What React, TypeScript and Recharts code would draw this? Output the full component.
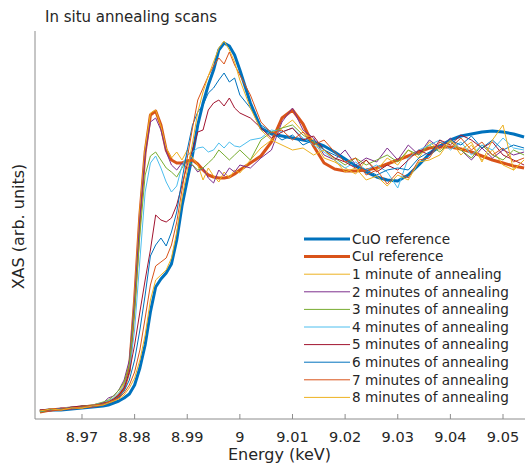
import React from "react";
import { LineChart, Line, XAxis, YAxis } from "recharts";

// Photon energy (keV)
const energy = [
  8.962, 8.964, 8.966, 8.968, 8.970, 8.972, 8.974, 8.975, 8.976, 8.977,
  8.978, 8.979, 8.980, 8.981, 8.982, 8.983, 8.984, 8.985, 8.986, 8.987,
  8.988, 8.989, 8.990, 8.991, 8.992, 8.993, 8.994, 8.995, 8.996, 8.997,
  8.998, 8.999, 9.000, 9.002, 9.004, 9.006, 9.008, 9.010, 9.012, 9.014,
  9.016, 9.018, 9.020, 9.022, 9.024, 9.026, 9.028, 9.030, 9.032, 9.034,
  9.036, 9.038, 9.040, 9.042, 9.044, 9.046, 9.048, 9.050, 9.052, 9.054,
];

const cuO = [
  -0.004, 0, 0, 0.004, 0.008, 0.012, 0.016, 0.02, 0.028, 0.036,
  0.048, 0.064, 0.1, 0.168, 0.26, 0.392, 0.492, 0.524, 0.548, 0.584,
  0.68, 0.816, 0.92, 1.02, 1.14, 1.228, 1.3, 1.36, 1.44, 1.468,
  1.456, 1.42, 1.36, 1.228, 1.128, 1.104, 1.096, 1.088, 1.08, 1.072,
  1.056, 1.032, 1.004, 0.976, 0.952, 0.932, 0.92, 0.916, 0.94, 0.98,
  1.024, 1.056, 1.08, 1.096, 1.104, 1.112, 1.116, 1.112, 1.104, 1.092,
];

const cuI = [
  -0.008, 0, 0.004, 0.008, 0.012, 0.016, 0.024, 0.032, 0.04, 0.056,
  0.088, 0.16, 0.44, 0.78, 1.032, 1.18, 1.196, 1.14, 1.04, 1.0,
  0.988, 0.988, 0.996, 1.0, 0.984, 0.96, 0.94, 0.932, 0.928, 0.928,
  0.932, 0.944, 0.96, 0.988, 1.016, 1.072, 1.168, 1.2, 1.144, 1.056,
  0.988, 0.964, 0.956, 0.956, 0.96, 0.968, 0.984, 1.0, 1.016, 1.032,
  1.048, 1.052, 1.052, 1.044, 1.032, 1.016, 1.0, 0.988, 0.976, 0.968,
];

const min1 = [
  -0.004, 0.004, 0, 0.012, 0.008, 0.02, 0.028, 0.036, 0.048, 0.068,
  0.108, 0.192, 0.46, 0.8, 1.048, 1.188, 1.2, 1.136, 1.048, 1.008,
  1.032, 1.0, 1.04, 1.008, 0.98, 0.92, 0.968, 0.936, 0.912, 0.952,
  0.928, 0.96, 0.948, 1.0, 1.048, 1.08, 1.128, 1.16, 1.112, 1.08,
  1.008, 0.992, 0.968, 0.944, 1.0, 0.96, 1.008, 0.98, 1.04, 1.008,
  1.072, 1.04, 1.08, 1.02, 1.06, 1.0, 1.04, 0.98, 0.96, 1.0,
];

const min2 = [
  0, -0.004, 0.008, 0.004, 0.016, 0.012, 0.028, 0.048, 0.056, 0.08,
  0.12, 0.2, 0.44, 0.768, 1.02, 1.152, 1.168, 1.12, 1.032, 0.98,
  0.96, 0.988, 0.968, 0.98, 0.952, 0.968, 0.928, 0.908, 0.96, 0.936,
  0.968, 0.952, 0.98, 0.968, 1.008, 1.04, 1.152, 1.208, 1.12, 1.088,
  1.02, 1.0, 1.04, 0.98, 1.008, 0.992, 1.048, 1.0, 1.06, 1.02,
  1.08, 1.048, 1.088, 1.04, 1.0, 1.048, 1.008, 1.04, 1.02, 1.032,
];

const min3 = [
  -0.008, 0, 0.004, 0.008, 0.016, 0.02, 0.032, 0.04, 0.056, 0.08,
  0.112, 0.18, 0.4, 0.7, 0.94, 1.016, 1.032, 1.0, 0.968, 0.952,
  0.932, 0.968, 1.0, 0.98, 0.96, 0.968, 0.988, 1.008, 1.04, 1.02,
  1.0, 1.02, 1.04, 1.0, 1.08, 1.112, 1.128, 1.14, 1.1, 1.072,
  1.04, 1.008, 0.98, 1.008, 0.98, 1.0, 1.02, 0.992, 1.04, 1.02,
  1.06, 1.032, 1.072, 1.04, 1.008, 1.06, 1.02, 1.0, 1.04, 1.02,
];

const min4 = [
  -0.004, 0, 0.004, 0.012, 0.012, 0.02, 0.028, 0.036, 0.048, 0.068,
  0.096, 0.152, 0.32, 0.6, 0.872, 0.988, 1.016, 0.968, 0.912, 0.872,
  0.896, 0.976, 1.02, 1.032, 1.048, 1.052, 1.032, 1.04, 1.068, 1.048,
  1.072, 1.056, 1.052, 1.08, 1.088, 1.12, 1.112, 1.128, 1.088, 1.06,
  1.032, 1.0, 0.968, 0.992, 0.96, 0.98, 0.952, 0.888, 1.008, 1.04,
  1.06, 1.08, 1.04, 1.072, 1.02, 1.06, 1.04, 1.088, 1.048, 1.04,
];

const min5 = [
  0, 0.004, 0, 0.012, 0.016, 0.016, 0.028, 0.032, 0.044, 0.06,
  0.088, 0.152, 0.26, 0.392, 0.52, 0.64, 0.78, 0.76, 0.752, 0.768,
  0.82, 0.9, 0.98, 1.04, 1.112, 1.12, 1.2, 1.228, 1.24, 1.216,
  1.248, 1.208, 1.188, 1.168, 1.128, 1.088, 1.112, 1.128, 1.08, 1.096,
  1.04, 1.008, 0.992, 0.968, 1.0, 0.952, 0.98, 0.96, 1.0, 1.04,
  1.02, 1.08, 1.06, 1.1, 1.08, 1.048, 1.072, 1.02, 1.0, 0.98,
];

const min6 = [
  -0.004, 0, 0.004, 0.008, 0.012, 0.016, 0.024, 0.028, 0.04, 0.052,
  0.076, 0.12, 0.2, 0.32, 0.46, 0.616, 0.66, 0.688, 0.656, 0.712,
  0.792, 0.92, 1.04, 1.14, 1.192, 1.22, 1.268, 1.288, 1.32, 1.348,
  1.312, 1.328, 1.26, 1.208, 1.14, 1.112, 1.08, 1.1, 1.06, 1.08,
  1.04, 1.02, 1.0, 0.98, 0.96, 0.94, 0.96, 0.968, 0.96, 1.008,
  1.032, 1.06, 1.08, 1.06, 1.096, 1.048, 1.08, 1.04, 1.06, 1.048,
];

const min7 = [
  0, -0.004, 0.004, 0.008, 0.012, 0.02, 0.024, 0.032, 0.04, 0.048,
  0.068, 0.1, 0.152, 0.24, 0.368, 0.5, 0.576, 0.592, 0.608, 0.66,
  0.752, 0.88, 1.008, 1.128, 1.24, 1.288, 1.336, 1.376, 1.408, 1.384,
  1.432, 1.38, 1.34, 1.26, 1.152, 1.108, 1.12, 1.08, 1.112, 1.06,
  1.08, 1.032, 0.992, 1.008, 0.94, 0.96, 0.904, 0.952, 0.928, 1.0,
  1.008, 1.072, 1.048, 1.088, 1.04, 1.072, 1.02, 1.048, 0.992, 1.008,
];

const min8 = [
  -0.004, 0.004, 0, 0.008, 0.008, 0.016, 0.02, 0.028, 0.036, 0.044,
  0.06, 0.088, 0.128, 0.2, 0.3, 0.44, 0.52, 0.54, 0.56, 0.608,
  0.712, 0.848, 0.96, 1.068, 1.192, 1.272, 1.336, 1.392, 1.448, 1.476,
  1.44, 1.392, 1.32, 1.208, 1.12, 1.08, 1.06, 1.04, 1.048, 1.02,
  1.04, 1.0, 0.952, 0.968, 0.92, 0.936, 0.896, 0.94, 0.92, 0.992,
  1.0, 1.02, 1.08, 1.04, 1.072, 0.992, 1.08, 1.14, 0.96, 1.0,
];

const tickValues = [8.97, 8.98, 8.99, 9.0, 9.01, 9.02, 9.03, 9.04, 9.05];
const tickLabels = ["8.97", "8.98", "8.99", "9", "9.01", "9.02", "9.03", "9.04", "9.05"];

const seriesNames = [
  "CuO reference",
  "CuI reference",
  "1 minute of annealing",
  "2 minutes of annealing",
  "3 minutes of annealing",
  "4 minutes of annealing",
  "5 minutes of annealing",
  "6 minutes of annealing",
  "7 minutes of annealing",
  "8 minutes of annealing",
];
const seriesKeys = ["cuO", "cuI", "m1", "m2", "m3", "m4", "m5", "m6", "m7", "m8"];
const seriesValues = [cuO, cuI, min1, min2, min3, min4, min5, min6, min7, min8];
const seriesColors = [
  "#0072BD", "#D95319", "#EDB120", "#7E2F8E", "#77AC30",
  "#4DBEEE", "#A2142F", "#0072BD", "#D95319", "#EDB120",
];
const seriesWidths = [3, 3, 1, 1, 1, 1, 1, 1, 1, 1];

const data = energy.map((e, i) => {
  const row: Record<string, number> = { e };
  seriesKeys.forEach((k, j) => {
    row[k] = seriesValues[j][i];
  });
  return row;
});

const FONT = "'DejaVu Sans', sans-serif";
const AXIS = "#8c8c8c";
const TEXT = "#262626";
const W = 525;
const H = 466;

const BottomTick = (props: any) => {
  const { x, y, payload } = props;
  const i = tickValues.indexOf(payload.value);
  return (
    <g>
      <line x1={x} x2={x} y1={y} y2={y - 5} stroke={AXIS} strokeWidth={1} />
      <text x={x} y={y + 23} textAnchor="middle" fontSize={14.5} fontFamily={FONT} fill={TEXT}>
        {i >= 0 ? tickLabels[i] : String(payload.value)}
      </text>
    </g>
  );
};

const TopTick = (props: any) => {
  const { x, y } = props;
  return <line x1={x} x2={x} y1={y} y2={y + 5} stroke={AXIS} strokeWidth={1} />;
};

export default function App() {
  return (
    <div style={{ position: "relative", width: W, height: H, fontFamily: FONT, overflow: "hidden" }}>
      <style>{"html, body { margin: 0; padding: 0; }"}</style>
      <LineChart
        width={W}
        height={H}
        data={data}
        margin={{ top: 31, right: 0, bottom: 0, left: 0 }}
      >
        <XAxis
          xAxisId="bottom"
          dataKey="e"
          type="number"
          domain={[8.96107, 9.05418]}
          ticks={tickValues}
          allowDataOverflow
          orientation="bottom"
          height={47}
          tickLine={false}
          tickSize={0}
          tickMargin={0}
          axisLine={{ stroke: AXIS, strokeWidth: 1 }}
          tick={<BottomTick />}
          interval={0}
        />
        <XAxis
          xAxisId="top"
          dataKey="e"
          type="number"
          domain={[8.96107, 9.05418]}
          ticks={tickValues}
          allowDataOverflow
          orientation="top"
          height={0}
          tickLine={false}
          tickSize={0}
          tickMargin={0}
          axisLine={{ stroke: AXIS, strokeWidth: 1 }}
          tick={<TopTick />}
          interval={0}
        />
        <YAxis
          yAxisId="y"
          type="number"
          domain={[-0.036, 1.516]}
          allowDataOverflow
          width={35}
          tick={false}
          tickLine={false}
          axisLine={{ stroke: AXIS, strokeWidth: 1 }}
        />
        {seriesKeys.map((k, j) => (
          <Line
            key={k}
            xAxisId="bottom"
            yAxisId="y"
            dataKey={k}
            type="linear"
            stroke={seriesColors[j]}
            strokeWidth={seriesWidths[j]}
            dot={false}
            activeDot={false}
            isAnimationActive={false}
            strokeLinejoin="round"
          />
        ))}
      </LineChart>
      <svg
        width={W}
        height={H}
        style={{ position: "absolute", left: 0, top: 0, pointerEvents: "none" }}
      >
        <text x={45} y={22} fontSize={15} fontFamily={FONT} fill={TEXT}>
          In situ annealing scans
        </text>
        <text x={279.5} y={460} textAnchor="middle" fontSize={16} fontFamily={FONT} fill={TEXT}>
          Energy (keV)
        </text>
        <text
          x={24}
          y={226.5}
          textAnchor="middle"
          fontSize={16}
          fontFamily={FONT}
          fill={TEXT}
          transform="rotate(-90 24 226.5)"
        >
          XAS (arb. units)
        </text>
        {seriesNames.map((name, j) => {
          const cy = 239 + j * 17.6;
          return (
            <g key={name}>
              <line
                x1={304}
                x2={350}
                y1={cy}
                y2={cy}
                stroke={seriesColors[j]}
                strokeWidth={seriesWidths[j]}
              />
              <text x={352} y={cy + 4.8} fontSize={13.6} fontFamily={FONT} fill={TEXT}>
                {name}
              </text>
            </g>
          );
        })}
      </svg>
    </div>
  );
}
